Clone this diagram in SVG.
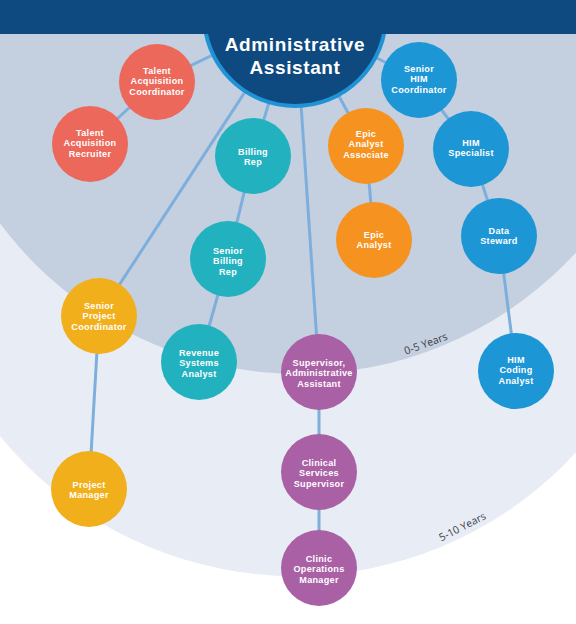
<svg xmlns="http://www.w3.org/2000/svg" width="576" height="624" viewBox="0 0 576 624">
<style>
.ln{stroke:#7eafdc;stroke-width:3;fill:none}
.nt{font-family:"Liberation Sans",Arial,sans-serif;font-weight:700;font-size:9.1px;letter-spacing:0.3px;fill:#fff;text-anchor:middle}
.mt{font-family:"Liberation Sans",Arial,sans-serif;font-weight:700;font-size:19px;letter-spacing:0.6px;fill:#fff;text-anchor:middle}
.yr{font-family:"Open Sans","Liberation Sans",sans-serif;font-size:10.5px;fill:#3a3f48;text-anchor:middle}
.red{fill:#ec685b}.blue{fill:#1d96d6}.teal{fill:#22b2bf}.orange{fill:#f6921f}.yellow{fill:#f2af1c}.purple{fill:#a960a5}
</style>
<rect width="576" height="624" fill="#ffffff"/>
<g id="bands">
<circle cx="295" cy="195" r="381" fill="#e8edf5"/>
<circle cx="300" cy="0" r="374" fill="#c4cfdf"/>
<text class="yr" transform="translate(427,347) rotate(-20)">0-5 Years</text>
<text class="yr" transform="translate(464,530) rotate(-27)">5-10 Years</text>
</g>
<g id="connectors">
<line class="ln" x1="295" y1="15" x2="157" y2="82"/>
<line class="ln" x1="157" y1="82" x2="90" y2="144"/>
<line class="ln" x1="295" y1="15" x2="99" y2="316"/>
<line class="ln" x1="99" y1="316" x2="89" y2="489"/>
<line class="ln" x1="295" y1="15" x2="253" y2="156"/>
<line class="ln" x1="253" y1="156" x2="228" y2="259"/>
<line class="ln" x1="228" y1="259" x2="199" y2="362"/>
<line class="ln" x1="295" y1="15" x2="319" y2="372"/>
<line class="ln" x1="319" y1="372" x2="319" y2="472"/>
<line class="ln" x1="319" y1="472" x2="319" y2="568"/>
<line class="ln" x1="295" y1="15" x2="366" y2="146"/>
<line class="ln" x1="366" y1="146" x2="374" y2="240"/>
<line class="ln" x1="295" y1="15" x2="419" y2="80"/>
<line class="ln" x1="419" y1="80" x2="471" y2="149"/>
<line class="ln" x1="471" y1="149" x2="499" y2="236"/>
<line class="ln" x1="499" y1="236" x2="516" y2="371"/>
</g>
<g id="main">
<circle cx="295" cy="15" r="91" fill="#0e4a7f" stroke="#1f93d5" stroke-width="4"/>
<rect x="0" y="0" width="576" height="34" fill="#0e4a7f"/>
<text class="mt" x="295" y="51">Administrative<tspan x="295" dy="23">Assistant</tspan></text>
</g>
<g id="talent-acquisition-coordinator"><circle class="red" cx="157" cy="82" r="38"/><text class="nt" x="157" y="74">Talent<tspan x="157" dy="10.3">Acquisition</tspan><tspan x="157" dy="10.3">Coordinator</tspan></text></g>
<g id="talent-acquisition-recruiter"><circle class="red" cx="90" cy="144" r="38"/><text class="nt" x="90" y="136">Talent<tspan x="90" dy="10.3">Acquisition</tspan><tspan x="90" dy="10.3">Recruiter</tspan></text></g>
<g id="senior-him-coordinator"><circle class="blue" cx="419" cy="80" r="38"/><text class="nt" x="419" y="72">Senior<tspan x="419" dy="10.3">HIM</tspan><tspan x="419" dy="10.3">Coordinator</tspan></text></g>
<g id="him-specialist"><circle class="blue" cx="471" cy="149" r="38"/><text class="nt" x="471" y="146">HIM<tspan x="471" dy="10.3">Specialist</tspan></text></g>
<g id="data-steward"><circle class="blue" cx="499" cy="236" r="38"/><text class="nt" x="499" y="234">Data<tspan x="499" dy="10.3">Steward</tspan></text></g>
<g id="him-coding-analyst"><circle class="blue" cx="516" cy="371" r="38"/><text class="nt" x="516" y="363">HIM<tspan x="516" dy="10.3">Coding</tspan><tspan x="516" dy="10.3">Analyst</tspan></text></g>
<g id="billing-rep"><circle class="teal" cx="253" cy="156" r="38"/><text class="nt" x="253" y="155">Billing<tspan x="253" dy="10.3">Rep</tspan></text></g>
<g id="senior-billing-rep"><circle class="teal" cx="228" cy="259" r="38"/><text class="nt" x="228" y="254">Senior<tspan x="228" dy="10.3">Billing</tspan><tspan x="228" dy="10.3">Rep</tspan></text></g>
<g id="revenue-systems-analyst"><circle class="teal" cx="199" cy="362" r="38"/><text class="nt" x="199" y="356">Revenue<tspan x="199" dy="10.3">Systems</tspan><tspan x="199" dy="10.3">Analyst</tspan></text></g>
<g id="epic-analyst-associate"><circle class="orange" cx="366" cy="146" r="38"/><text class="nt" x="366" y="137">Epic<tspan x="366" dy="10.3">Analyst</tspan><tspan x="366" dy="10.3">Associate</tspan></text></g>
<g id="epic-analyst"><circle class="orange" cx="374" cy="240" r="38"/><text class="nt" x="374" y="238">Epic<tspan x="374" dy="10.3">Analyst</tspan></text></g>
<g id="senior-project-coordinator"><circle class="yellow" cx="99" cy="316" r="38"/><text class="nt" x="99" y="309">Senior<tspan x="99" dy="10.3">Project</tspan><tspan x="99" dy="10.3">Coordinator</tspan></text></g>
<g id="project-manager"><circle class="yellow" cx="89" cy="489" r="38"/><text class="nt" x="89" y="488">Project<tspan x="89" dy="10.3">Manager</tspan></text></g>
<g id="supervisor-administrative-assistant"><circle class="purple" cx="319" cy="372" r="38"/><text class="nt" x="319" y="366">Supervisor,<tspan x="319" dy="10.3">Administrative</tspan><tspan x="319" dy="10.3">Assistant</tspan></text></g>
<g id="clinical-services-supervisor"><circle class="purple" cx="319" cy="472" r="38"/><text class="nt" x="319" y="466">Clinical<tspan x="319" dy="10.3">Services</tspan><tspan x="319" dy="10.3">Supervisor</tspan></text></g>
<g id="clinic-operations-manager"><circle class="purple" cx="319" cy="568" r="38"/><text class="nt" x="319" y="562">Clinic<tspan x="319" dy="10.3">Operations</tspan><tspan x="319" dy="10.3">Manager</tspan></text></g>
</svg>
